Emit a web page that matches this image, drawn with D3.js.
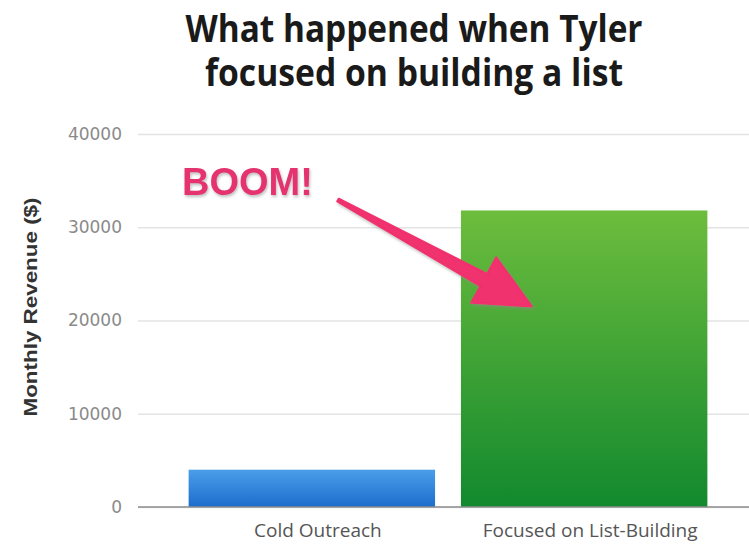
<!DOCTYPE html>
<html>
<head>
<meta charset="utf-8">
<script src="https://cdn.jsdelivr.net/npm/d3@7"></script>
<style>
  body { margin: 0; background: #fff; }
  .grid line { stroke: #e3e3e3; stroke-width: 1.5; }
  .grid text { fill: #8a8a8a; font-family: "DejaVu Sans", sans-serif; font-size: 17px; }
  .xaxis text { fill: #555; font-family: "Open Sans", sans-serif; font-size: 19px; }
</style>
</head>
<body>
<svg id="chart" width="749" height="546"></svg>
<script>
var categories = ["Cold Outreach", "Focused on List-Building"];
var revenue = [4000, 31800];
var yTicks = [0, 10000, 20000, 30000, 40000];
var titleLines = ["What happened when Tyler", "focused on building a list"];

var svg = d3.select("#chart"),
    W = +svg.attr("width"),
    plotLeft = 138, plotTop = 134, plotBase = 507;

var y = d3.scaleLinear().domain([0, 40000]).range([plotBase, plotTop]);
var x = d3.scaleBand().domain(categories).range([175, 721])
    .paddingInner(0.095).paddingOuter(0.05);

var defs = svg.append("defs");
var grads = [["#4a9ee9", "#1d6dcc"], ["#6dbd3d", "#12892e"]];
grads.forEach(function(c, i) {
  var g = defs.append("linearGradient").attr("id", "g" + i)
      .attr("x1", 0).attr("y1", 0).attr("x2", 0).attr("y2", 1);
  g.append("stop").attr("offset", "0%").attr("stop-color", c[0]);
  g.append("stop").attr("offset", "100%").attr("stop-color", c[1]);
});
var sh = defs.append("filter").attr("id", "shadow")
    .attr("x", "-20%").attr("y", "-20%").attr("width", "140%").attr("height", "140%");
sh.append("feDropShadow").attr("dx", 1).attr("dy", 2).attr("stdDeviation", 1.5)
    .attr("flood-color", "#888").attr("flood-opacity", 0.55);

// title
svg.selectAll(".title").data(titleLines).enter().append("text")
    .attr("class", "title")
    .attr("x", 414).attr("y", function(d, i) { return 42 + i * 44; })
    .attr("text-anchor", "middle")
    .attr("textLength", function(d, i) { return i ? 418 : 457; })
    .attr("lengthAdjust", "spacingAndGlyphs")
    .style("font-family", "'Open Sans', sans-serif")
    .style("font-weight", "bold").style("font-size", "38px").style("fill", "#1a1a1a")
    .text(function(d) { return d; });

// gridlines + y ticks
var gy = svg.append("g").attr("class", "grid")
    .attr("transform", "translate(" + plotLeft + ",0)")
    .call(d3.axisLeft(y).tickValues(yTicks).tickSize(-(W - plotLeft)).tickPadding(16)
      .tickFormat(d3.format("d")));
gy.select(".domain").remove();

// bars
svg.selectAll(".bar").data(revenue).enter().append("rect")
    .attr("class", "bar")
    .attr("x", function(d, i) { return x(categories[i]); })
    .attr("y", function(d) { return y(d); })
    .attr("width", x.bandwidth())
    .attr("height", function(d) { return plotBase - y(d); })
    .attr("fill", function(d, i) { return "url(#g" + i + ")"; });

// baseline
svg.append("line").attr("x1", plotLeft).attr("x2", W)
    .attr("y1", y(0)).attr("y2", y(0))
    .attr("stroke", "#8c8c8c").attr("stroke-width", 1.5);

// x axis labels
var gx = svg.append("g").attr("class", "xaxis")
    .attr("transform", "translate(6," + plotBase + ")")
    .call(d3.axisBottom(x).tickSize(0).tickPadding(17));
gx.select(".domain").remove();

// y axis title
svg.append("text")
    .attr("transform", "translate(37,307) rotate(-90)")
    .attr("text-anchor", "middle")
    .attr("textLength", 219).attr("lengthAdjust", "spacingAndGlyphs")
    .style("font-family", "'Liberation Sans', Arial, sans-serif")
    .style("font-weight", "bold").style("font-size", "18px").style("fill", "#333")
    .text("Monthly Revenue ($)");

// annotation
svg.append("text")
    .attr("x", 182).attr("y", 195)
    .attr("filter", "url(#shadow)")
    .style("font-family", "'Liberation Sans', Arial, sans-serif")
    .style("font-weight", "bold").style("font-size", "38px").style("fill", "#e5336f")
    .text("BOOM!");

var p0 = [338, 200], tip = [x(categories[1]) + 71, y(21500)];
var ddx = tip[0] - p0[0], ddy = tip[1] - p0[1], len = Math.hypot(ddx, ddy);
var ux = ddx / len, uy = ddy / len, nx = -uy, ny = ux;
var hl = 55, hw = 26, bx = tip[0] - ux * hl, by = tip[1] - uy * hl;
var pts = [
  [p0[0] + nx * 1.5, p0[1] + ny * 1.5],
  [bx + nx * 7, by + ny * 7],
  [bx + nx * hw, by + ny * hw],
  tip,
  [bx - nx * hw, by - ny * hw],
  [bx - nx * 7, by - ny * 7],
  [p0[0] - nx * 1.5, p0[1] - ny * 1.5]
];
svg.append("path")
    .attr("d", d3.line()(pts) + "Z")
    .attr("fill", "#f0306e")
    .attr("stroke", "#f0306e").attr("stroke-width", 2).attr("stroke-linejoin", "round")
    .attr("filter", "url(#shadow)");
</script>
</body>
</html>
